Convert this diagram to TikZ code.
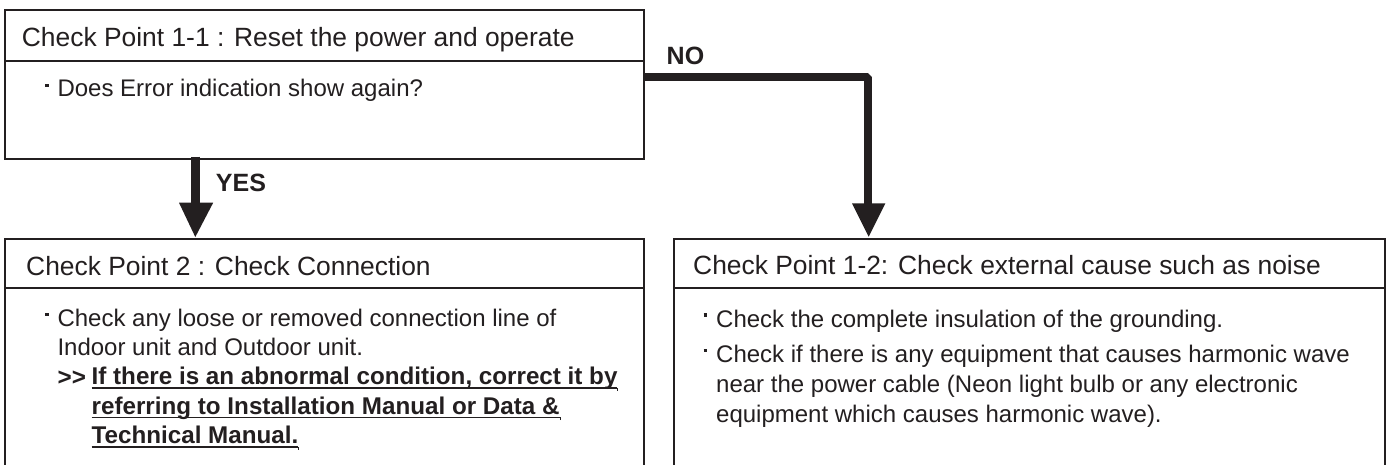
\documentclass[tikz,border=0pt]{standalone}
\usepackage{fontspec}
\setmainfont{Liberation Sans}
\definecolor{ink}{HTML}{231F20}
\newsavebox{\ulbox}
\newcommand{\ulline}[1]{\sbox{\ulbox}{#1}\rlap{\rule[-4pt]{\wd\ulbox}{1.7pt}\rule[-6pt]{1pt}{3pt}}\usebox{\ulbox}}
\newcommand{\sqbul}{\rule[9pt]{3.8pt}{3.2pt}}
\tikzset{
  x=1pt,y=-1pt,
  boxpart/.style={draw=ink,line width=1.7pt,fill=white,anchor=north west,inner sep=0pt,outer sep=0pt},
  title/.style={anchor=base west,inner sep=0pt,text=ink,font=\fontsize{26.4}{30}\selectfont},
  body/.style={anchor=base west,inner sep=0pt,text=ink,align=left,font=\fontsize{24}{29.4}\selectfont},
  boldbody/.style={anchor=base west,inner sep=0pt,text=ink,align=left,font=\fontsize{24.2}{29.3}\bfseries\selectfont},
  lab/.style={anchor=base west,inner sep=0pt,text=ink,font=\fontsize{25}{30}\bfseries\selectfont},
  bul/.style={anchor=base west,inner sep=0pt,text=ink},
  head/.style={fill=ink,draw=none}
}
\begin{document}
\begin{tikzpicture}
\useasboundingbox (0,0) rectangle (1387,464);
\fill[white] (0,0) rectangle (1387,464);
% boxes
\node[boxpart,minimum width=639pt,minimum height=51pt] (a) at (5,10) {};
\node[boxpart,minimum width=639pt,minimum height=98pt] (b) at (5,61) {};
\node[boxpart,minimum width=639pt,minimum height=49pt] (c) at (5,239) {};
\node[boxpart,minimum width=639pt,minimum height=180pt] (d) at (5,288) {};
\node[boxpart,minimum width=711pt,minimum height=49pt] (e) at (674,239) {};
\node[boxpart,minimum width=711pt,minimum height=180pt] (f) at (674,288) {};
% titles
\node[title] (ta) at (21.7,46) {Check Point 1-1 : Reset the power and operate};
\node[title] (tc) at (26,275) {Check Point 2 : Check Connection};
\node[title] (te) at (693,274) {Check Point 1-2: Check external cause such as noise};
% bullets
\node[bul] (b1) at (45,96) {\sqbul};
\node[bul] (b2) at (45,325) {\sqbul};
\node[bul] (b3) at (703.3,325.5) {\sqbul};
\node[bul] (b4) at (703.3,361) {\sqbul};
% bodies
\node[body] (t1) at (57.3,96) {Does Error indication show again?};
\node[body,font=\fontsize{24}{29}\selectfont] (t2) at (57.3,355) {Check any loose or removed connection line of\\Indoor unit and Outdoor unit.};
\node[boldbody] (t3) at (57.5,385) {>{}>};
\node[boldbody] (t4) at (91.5,443.5) {\ulline{If there is an abnormal condition, correct it by}\\\ulline{referring to Installation Manual or Data \&}\\\ulline{Technical Manual.}};
\node[body] (t5) at (716,327.3) {Check the complete insulation of the grounding.};
\node[body,font=\fontsize{24}{29.75}\selectfont] (t6) at (716,422) {Check if there is any equipment that causes harmonic wave\\near the power cable (Neon light bulb or any electronic\\equipment which causes harmonic wave).};
% labels
\node[lab] (yes) at (215.7,191.7) {YES};
\node[lab] (no) at (666.5,64.3) {NO};
% connectors
\coordinate (yesS) at ([xshift=190.3pt,yshift=2.3pt]b.south west);
\coordinate (yesT) at ([xshift=190.3pt,yshift=2pt]c.north west);
\draw[draw=ink,line width=9pt] (yesS) -- (195.3,204);
\fill[head] (179,202.7) -- (213.2,202.7) -- (yesT) -- cycle;
\coordinate (noT) at ([xshift=194.7pt,yshift=2.3pt]e.north west);
\draw[draw=ink,line width=7.4pt,line join=bevel] ([yshift=-16pt]b.north east) -- (868,77) -- (868,205);
\fill[head] (852,203.3) -- (885.4,203.3) -- (noT) -- cycle;
\end{tikzpicture}
\end{document}
